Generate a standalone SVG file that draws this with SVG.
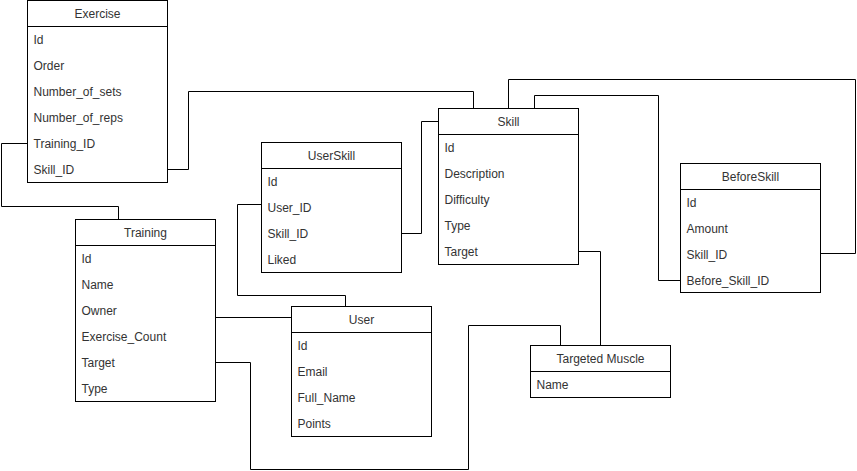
<svg xmlns="http://www.w3.org/2000/svg" width="857" height="471" viewBox="0 0 857 471">
<style>
.box{fill:#ffffff;stroke:#000000;stroke-width:1}
.sep{stroke:#000000;stroke-width:1}
.t{font-family:"Liberation Sans",Arial,sans-serif;font-size:12px;fill:#333333}
.h{text-anchor:middle}
.c{fill:none;stroke:#000000;stroke-width:1}
</style>
<rect width="857" height="471" fill="#ffffff"/>
<g id="connectors">
<path class="c" d="M27.5,143.5 H1.5 V206.5 H118.5 V219.5"/>
<path class="c" d="M167.5,169.5 H188.5 V91.5 H473.5 V108.5"/>
<path class="c" d="M401.5,233.5 H421.5 V121.5 H438.5"/>
<path class="c" d="M261.5,204.5 H237.5 V295.5 H345.5 V306.5"/>
<path class="c" d="M215.5,317.5 H291.5"/>
<path class="c" d="M215.5,362.5 H250.5 V469.5 H468.5 V325.5 H560.5 V345.5"/>
<path class="c" d="M578.5,251.5 H600.5 V345.5"/>
<path class="c" d="M508.5,108.5 V79.5 H855.5 V253.5 H820.5"/>
<path class="c" d="M534.5,108.5 V95.5 H658.5 V280.5 H680.5"/>
</g>
<g id="exercise">
<rect class="box" x="27.5" y="0.5" width="140" height="182"/>
<line class="sep" x1="27.5" y1="26.5" x2="167.5" y2="26.5"/>
<text class="t h" x="97.5" y="17.5">Exercise</text>
<text class="t" x="33.5" y="44">Id</text>
<text class="t" x="33.5" y="70">Order</text>
<text class="t" x="33.5" y="96">Number_of_sets</text>
<text class="t" x="33.5" y="122">Number_of_reps</text>
<text class="t" x="33.5" y="148">Training_ID</text>
<text class="t" x="33.5" y="174">Skill_ID</text>
</g>
<g id="skill">
<rect class="box" x="438.5" y="108.5" width="140" height="156"/>
<line class="sep" x1="438.5" y1="134.5" x2="578.5" y2="134.5"/>
<text class="t h" x="508.5" y="125.5">Skill</text>
<text class="t" x="444.5" y="152">Id</text>
<text class="t" x="444.5" y="178">Description</text>
<text class="t" x="444.5" y="204">Difficulty</text>
<text class="t" x="444.5" y="230">Type</text>
<text class="t" x="444.5" y="256">Target</text>
</g>
<g id="userskill">
<rect class="box" x="261.5" y="142.5" width="140" height="130"/>
<line class="sep" x1="261.5" y1="168.5" x2="401.5" y2="168.5"/>
<text class="t h" x="331.5" y="159.5">UserSkill</text>
<text class="t" x="267.5" y="186">Id</text>
<text class="t" x="267.5" y="212">User_ID</text>
<text class="t" x="267.5" y="238">Skill_ID</text>
<text class="t" x="267.5" y="264">Liked</text>
</g>
<g id="beforeskill">
<rect class="box" x="680.5" y="163.5" width="140" height="129"/>
<line class="sep" x1="680.5" y1="189.5" x2="820.5" y2="189.5"/>
<text class="t h" x="750.5" y="180.5">BeforeSkill</text>
<text class="t" x="686.5" y="207">Id</text>
<text class="t" x="686.5" y="233">Amount</text>
<text class="t" x="686.5" y="259">Skill_ID</text>
<text class="t" x="686.5" y="285">Before_Skill_ID</text>
</g>
<g id="training">
<rect class="box" x="75.5" y="219.5" width="140" height="182"/>
<line class="sep" x1="75.5" y1="245.5" x2="215.5" y2="245.5"/>
<text class="t h" x="145.5" y="236.5">Training</text>
<text class="t" x="81.5" y="263">Id</text>
<text class="t" x="81.5" y="289">Name</text>
<text class="t" x="81.5" y="315">Owner</text>
<text class="t" x="81.5" y="341">Exercise_Count</text>
<text class="t" x="81.5" y="367">Target</text>
<text class="t" x="81.5" y="393">Type</text>
</g>
<g id="user">
<rect class="box" x="291.5" y="306.5" width="140" height="130"/>
<line class="sep" x1="291.5" y1="332.5" x2="431.5" y2="332.5"/>
<text class="t h" x="361.5" y="323.5">User</text>
<text class="t" x="297.5" y="350">Id</text>
<text class="t" x="297.5" y="376">Email</text>
<text class="t" x="297.5" y="402">Full_Name</text>
<text class="t" x="297.5" y="428">Points</text>
</g>
<g id="targeted-muscle">
<rect class="box" x="530.5" y="345.5" width="140" height="52"/>
<line class="sep" x1="530.5" y1="371.5" x2="670.5" y2="371.5"/>
<text class="t h" x="600.5" y="362.5">Targeted Muscle</text>
<text class="t" x="536.5" y="389">Name</text>
</g>
</svg>
